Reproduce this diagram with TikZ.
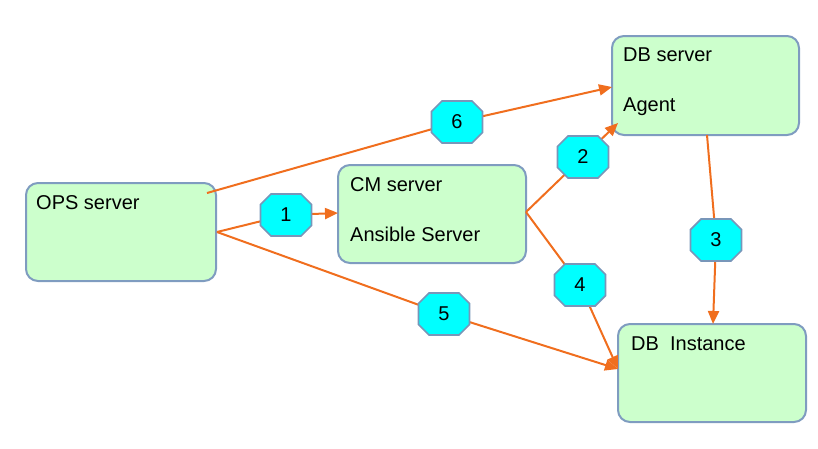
\documentclass[tikz,border=0pt]{standalone}
\usepackage{fontspec}
\setmainfont{Liberation Sans}
\usetikzlibrary{shapes.misc,arrows.meta}
\definecolor{boxfill}{RGB}{204,255,204}
\definecolor{boxline}{RGB}{127,156,192}
\definecolor{octfill}{RGB}{0,255,255}
\definecolor{octline}{RGB}{120,150,185}
\definecolor{conn}{RGB}{240,110,30}
\tikzset{
  server/.style={draw=boxline, fill=boxfill, line width=2pt, rounded corners=12pt, inner sep=0pt},
  lbl/.style={anchor=base west, inner sep=0pt, font=\fontsize{20}{24}\selectfont},
  octa/.style={chamfered rectangle, chamfered rectangle xsep=12pt, draw=octline, fill=octfill, line width=1.6pt,
    minimum width=51pt, minimum height=42pt, inner sep=0pt, font=\fontsize{20}{24}\selectfont},
  conline/.style={draw=conn, line width=2pt},
  conarrow/.style={conline, -{Triangle[length=13pt,width=11pt]}}
}
\begin{document}
\begin{tikzpicture}[x=1pt,y=-1pt]
\useasboundingbox (0,0) rectangle (818,448);
% boxes
\node[server, minimum width=190pt, minimum height=98pt] (ops) at (121,232) {};
\node[server, minimum width=188pt, minimum height=98pt] (cm) at (432,214) {};
\node[server, minimum width=187pt, minimum height=99pt] (dbs) at (705.5,85.5) {};
\node[server, minimum width=188pt, minimum height=98pt] (dbi) at (712,373) {};
% texts
\node[lbl] (tops) at (36,209) {OPS server};
\node[lbl] (tcm1) at (350,191) {CM server};
\node[lbl] (tcm2) at (350,241) {Ansible Server};
\node[lbl] (tdbs1) at (623,61) {DB server};
\node[lbl] (tdbs2) at (623,111) {Agent};
\node[lbl] (tdbi) at (631,350) {DB\ \ Instance};
% octagon centres
\coordinate (c1) at (286,215);
\coordinate (c2) at (583,157);
\coordinate (c3) at (716,240);
\coordinate (c4) at (580,285);
\coordinate (c5) at (444,314);
\coordinate (c6) at (457,122);
% connector ends
\coordinate (opsTop) at (207,193);
\coordinate (opsR) at (217,232);
\coordinate (cmR) at (526,212);
\coordinate (cmL) at (338,213);
\coordinate (dbsA) at (612,87);
\coordinate (dbsB) at (618,123);
\coordinate (dbsBot) at (707,135);
\coordinate (dbiT) at (713,324);
\coordinate (dbiL) at (618,369);
% connectors
\draw[conline] (opsTop) -- (c6);
\draw[conarrow] (c6) -- (dbsA);
\draw[conline] (opsR) -- (c1);
\draw[conarrow] (c1) -- (cmL);
\draw[conline] (opsR) -- (c5);
\draw[conarrow] (c5) -- (dbiL);
\draw[conline] (cmR) -- (c2);
\draw[conarrow] (c2) -- (dbsB);
\draw[conline] (cmR) -- (c4);
\draw[conarrow] (c4) -- (dbiL);
\draw[conline] (dbsBot) -- (c3);
\draw[conarrow] (c3) -- (dbiT);
% octagons
\node[octa] (o1) at (c1) {1};
\node[octa] (o2) at (c2) {2};
\node[octa] (o3) at (c3) {3};
\node[octa] (o4) at (c4) {4};
\node[octa] (o5) at (c5) {5};
\node[octa] (o6) at (c6) {6};
\end{tikzpicture}
\end{document}
